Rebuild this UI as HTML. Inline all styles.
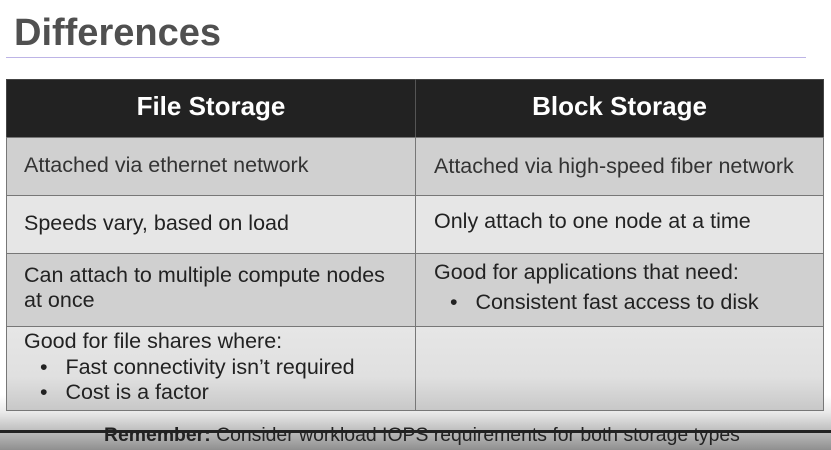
<!DOCTYPE html>
<html><head><meta charset="utf-8"><style>
body{margin:0;width:831px;height:450px;overflow:hidden;position:relative;font-family:"Liberation Sans",sans-serif;background:linear-gradient(#fff 0,#fff 395px,#eaeaea 412px,#a8a8a8 440px,#8f8f8f 450px);}
.a{position:absolute;white-space:nowrap}
.t{font-size:21.5px;color:#222}
.c{position:absolute;box-sizing:border-box;border:1px solid #777}
</style></head><body>
<div class="a" style="left:14px;top:12px;font-size:38px;font-weight:bold;color:#505050">Differences</div>
<div class="a" style="left:6px;top:57px;width:800px;height:1px;background:#bdb4e6"></div>
<div class="c" style="left:6px;top:79px;width:818px;height:59px;background:#222;border-color:#444"></div>
<div class="a" style="left:415px;top:79px;width:1px;height:59px;background:#555"></div>
<div class="a" style="left:6px;top:91px;width:410px;text-align:center;color:#fff;font-weight:bold;font-size:26px">File Storage</div>
<div class="a" style="left:415px;top:91px;width:409px;text-align:center;color:#fff;font-weight:bold;font-size:26px">Block Storage</div>
<div class="c" style="left:6px;top:137px;width:410px;height:59px;background:#d0d0d0"></div>
<div class="c" style="left:415px;top:137px;width:409px;height:59px;background:#d0d0d0"></div>
<div class="c" style="left:6px;top:195px;width:410px;height:59px;background:#e6e6e6"></div>
<div class="c" style="left:415px;top:195px;width:409px;height:59px;background:#e6e6e6"></div>
<div class="c" style="left:6px;top:253px;width:410px;height:74px;background:#d0d0d0"></div>
<div class="c" style="left:415px;top:253px;width:409px;height:74px;background:#d0d0d0"></div>
<div class="c" style="left:6px;top:326px;width:410px;height:85px;background:linear-gradient(#e6e6e6,#e0e0e0 60%,#c8c8c8)"></div>
<div class="c" style="left:415px;top:326px;width:409px;height:85px;background:linear-gradient(#e6e6e6,#e0e0e0 60%,#c8c8c8)"></div>
<div class="a t" style="left:24px;top:153px;color:#333">Attached via ethernet network</div>
<div class="a t" style="left:434px;top:154px;color:#333">Attached via high-speed fiber network</div>
<div class="a t" style="left:24px;top:211px">Speeds vary, based on load</div>
<div class="a t" style="left:434px;top:209px">Only attach to one node at a time</div>
<div class="a t" style="left:24px;top:263px">Can attach to multiple compute nodes</div>
<div class="a t" style="left:24px;top:288px">at once</div>
<div class="a t" style="left:434px;top:260px">Good for applications that need:</div>
<div class="a t" style="left:450px;top:290px">•&nbsp;&nbsp; Consistent fast access to disk</div>
<div class="a t" style="left:24px;top:329px">Good for file shares where:</div>
<div class="a t" style="left:40px;top:355px">•&nbsp;&nbsp; Fast connectivity isn’t required</div>
<div class="a t" style="left:40px;top:380px">•&nbsp;&nbsp; Cost is a factor</div>
<div class="a" style="left:0;top:430px;width:831px;height:3px;background:#222"></div>
<div class="a" style="left:104px;top:424px;font-size:19.4px;color:#222"><b>Remember:</b> Consider workload IOPS requirements for both storage types</div>
</body></html>
